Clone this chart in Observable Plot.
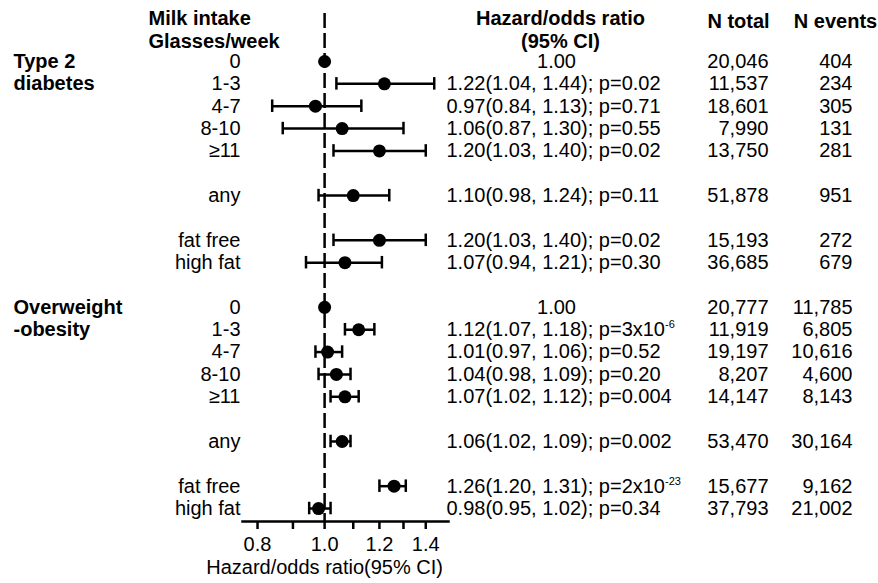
<!DOCTYPE html>
<html>
<head>
<meta charset="utf-8">
<script src="https://cdn.jsdelivr.net/npm/d3@7"></script>
<script src="https://cdn.jsdelivr.net/npm/@observablehq/plot@0.6"></script>
<style>
  html, body { margin: 0; padding: 0; background: #fff; }
  #chart { width: 878px; height: 583px; }
</style>
</head>
<body>
<div id="chart"></div>
<script>
// ---- Data ----
const categories = ["0", "1-3", "4-7", "8-10", "≥11", "any", "fat free", "high fat"];
const categorySlots = [0, 1, 2, 3, 4, 6, 8, 9];
const groupNames = [["Type 2", "diabetes"], ["Overweight", "-obesity"]];
const groupOffsets = [0, 11];

const t2dHR     = [1.00, 1.22, 0.97, 1.06, 1.20, 1.10, 1.20, 1.07];
const t2dLow    = [null, 1.04, 0.84, 0.87, 1.03, 0.98, 1.03, 0.94];
const t2dHigh   = [null, 1.44, 1.13, 1.30, 1.40, 1.24, 1.40, 1.21];
const t2dP      = [null, "0.02", "0.71", "0.55", "0.02", "0.11", "0.02", "0.30"];
const t2dTotal  = ["20,046", "11,537", "18,601", "7,990", "13,750", "51,878", "15,193", "36,685"];
const t2dEvents = ["404", "234", "305", "131", "281", "951", "272", "679"];

const owHR      = [1.00, 1.12, 1.01, 1.04, 1.07, 1.06, 1.26, 0.98];
const owLow     = [null, 1.07, 0.97, 0.98, 1.02, 1.02, 1.20, 0.95];
const owHigh    = [null, 1.18, 1.06, 1.09, 1.12, 1.09, 1.31, 1.02];
const owP       = [null, "3x10^-6", "0.52", "0.20", "0.004", "0.002", "2x10^-23", "0.34"];
const owTotal   = ["20,777", "11,919", "19,197", "8,207", "14,147", "53,470", "15,677", "37,793"];
const owEvents  = ["11,785", "6,805", "10,616", "4,600", "8,143", "30,164", "9,162", "21,002"];

const xTicks = [0.8, 0.9, 1.0, 1.1, 1.2, 1.3, 1.4];
const xTickLabels = [0.8, 1.0, 1.2, 1.4];
const axisTitle = "Hazard/odds ratio(95% CI)";
const headers = {
  left: ["Milk intake", "Glasses/week"],
  hr: ["Hazard/odds ratio", "(95% CI)"],
  total: "N total",
  events: "N events"
};

// ---- Build table ----
const series = [
  {hr: t2dHR, lo: t2dLow, hi: t2dHigh, p: t2dP, total: t2dTotal, events: t2dEvents},
  {hr: owHR, lo: owLow, hi: owHigh, p: owP, total: owTotal, events: owEvents}
];
const rows = [];
series.forEach((s, g) => {
  categories.forEach((c, i) => {
    const hr = s.hr[i], lo = s.lo[i], hi = s.hi[i];
    rows.push({
      row: groupOffsets[g] + categorySlots[i],
      cat: c, hr, lo, hi,
      text: lo == null ? null : `${hr.toFixed(2)}(${lo.toFixed(2)}, ${hi.toFixed(2)}); p=${s.p[i]}`,
      ref: lo == null ? hr.toFixed(2) : null,
      total: s.total[i],
      events: s.events[i]
    });
  });
});
const groupLabels = [];
groupNames.forEach((lines, g) => lines.forEach((t, k) => groupLabels.push({row: groupOffsets[g] + k, t})));
const ci = rows.filter(d => d.lo != null);

const FS = 20;
const font = "'Liberation Sans', Arial, Helvetica, sans-serif";

const chart = Plot.plot({
  width: 878,
  height: 583,
  marginLeft: 242,
  marginRight: 430,
  marginTop: 13,
  marginBottom: 62,
  style: {fontFamily: font, fontSize: FS + "px", color: "#000", background: "#fff"},
  x: {type: "log", domain: [0.761, 1.51]},
  y: {domain: [-2.148, 20.58], reverse: true, axis: null},
  marks: [
    Plot.ruleX([1], {stroke: "#000", strokeWidth: 2.5, strokeDasharray: "15,5"}),
    Plot.frame({anchor: "bottom", stroke: "#000", strokeWidth: 2.5}),
    Plot.axisX({
      ticks: xTicks,
      tickFormat: d => xTickLabels.some(v => Math.abs(v - d) < 1e-9) ? d.toFixed(1) : "",
      tickSize: 8, tickPadding: 7, strokeWidth: 2.5, fontSize: FS, label: null, stroke: "#000"
    }),
    Plot.text([{x: 1, t: axisTitle}], {x: "x", text: "t", frameAnchor: "bottom", lineAnchor: "middle", dy: 46, fontSize: FS}),
    // error bars
    Plot.ruleY(ci, {y: "row", x1: "lo", x2: "hi", stroke: "#000", strokeWidth: 2.5}),
    Plot.ruleX(ci, {x: "lo", y1: d => d.row - 0.28, y2: d => d.row + 0.28, stroke: "#000", strokeWidth: 2.5}),
    Plot.ruleX(ci, {x: "hi", y1: d => d.row - 0.28, y2: d => d.row + 0.28, stroke: "#000", strokeWidth: 2.5}),
    Plot.dot(rows, {x: "hr", y: "row", r: 6.5, fill: "#000"}),
    // left labels
    Plot.text(rows, {y: "row", text: "cat", frameAnchor: "left", textAnchor: "end", dx: -2, fontSize: FS}),
    Plot.text(groupLabels, {y: "row", text: "t", frameAnchor: "left", textAnchor: "start", dx: -229, fontSize: FS, fontWeight: "bold"}),
    Plot.text(headers.left.map((t, k) => ({t, row: k - 2})), {y: "row", text: "t", frameAnchor: "left", textAnchor: "start", dx: -94, dy: 2, fontSize: FS, fontWeight: "bold"}),
    // right columns
    Plot.text(headers.hr.map((t, k) => ({t, row: k - 2})), {y: "row", text: "t", frameAnchor: "right", textAnchor: "middle", dx: 112, dy: 2, fontSize: FS, fontWeight: "bold"}),
    Plot.text([{t: headers.total, row: -2}], {y: "row", text: "t", frameAnchor: "right", textAnchor: "middle", dx: 290, dy: 5, fontSize: FS, fontWeight: "bold"}),
    Plot.text([{t: headers.events, row: -2}], {y: "row", text: "t", frameAnchor: "right", textAnchor: "middle", dx: 387, dy: 5, fontSize: FS, fontWeight: "bold"}),
    Plot.text(ci, {y: "row", text: "text", frameAnchor: "right", textAnchor: "start", dx: -2, fontSize: FS}),
    Plot.text(rows.filter(d => d.ref), {y: "row", text: "ref", frameAnchor: "right", textAnchor: "middle", dx: 108, fontSize: FS}),
    Plot.text(rows, {y: "row", text: "total", frameAnchor: "right", textAnchor: "end", dx: 320, fontSize: FS}),
    Plot.text(rows, {y: "row", text: "events", frameAnchor: "right", textAnchor: "end", dx: 404, fontSize: FS})
  ]
});

// superscripts (e.g. 3x10^-6)
chart.querySelectorAll("text").forEach(t => {
  if (t.childElementCount === 0 && t.textContent.includes("^")) {
    const [base, sup] = t.textContent.split("^");
    t.textContent = base;
    const ts = document.createElementNS("http://www.w3.org/2000/svg", "tspan");
    ts.setAttribute("dy", "-8");
    ts.setAttribute("font-size", "11px");
    ts.textContent = sup;
    t.appendChild(ts);
  }
});

document.getElementById("chart").appendChild(chart);
</script>
</body>
</html>
